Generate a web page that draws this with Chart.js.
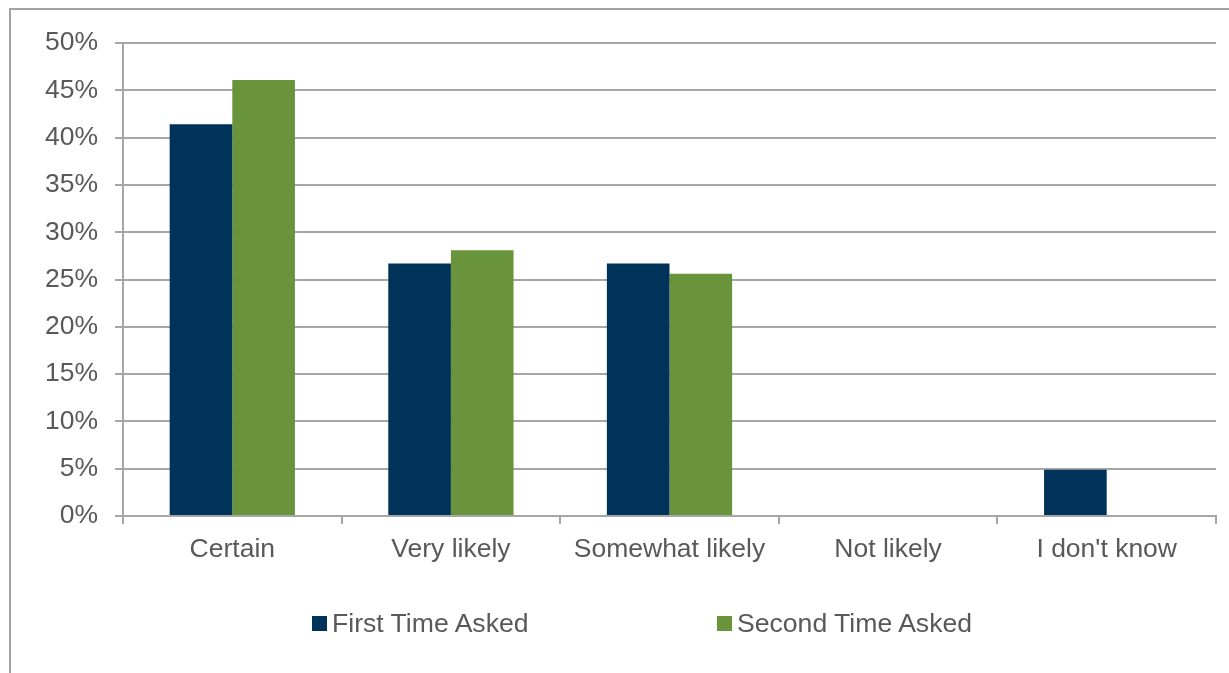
<!DOCTYPE html>
<html>
<head>
<meta charset="utf-8">
<script src="https://cdn.jsdelivr.net/npm/chart.js@4"></script>
<style>
  html, body { margin: 0; padding: 0; background: #fff; }
  body { width: 1229px; height: 673px; position: relative; overflow: hidden; font-family: "Liberation Sans", Arial, sans-serif; }
  #frame { position: absolute; left: 9px; top: 8px; width: 1300px; height: 700px; border-left: 2px solid #a3a3a3; border-top: 2px solid #a3a3a3; }
  #wrap { position: absolute; left: 0; top: 0; width: 1229px; height: 673px; }
  #legend { position: absolute; top: 607px; left: 0; width: 1229px; height: 32px; }
  .item { position: absolute; top: 0; display: flex; align-items: center; font-size: 26.6px; color: #595959; height: 32px; }
  .box { width: 15px; height: 15px; margin-right: 5px; }
</style>
</head>
<body>
<div id="frame"></div>
<div id="wrap"><canvas id="grafico"></canvas></div>
<div id="legend"></div>
<script>
const categorias = ["Certain", "Very likely", "Somewhat likely", "Not likely", "I don't know"];
const primeira = [41.4, 26.7, 26.7, 0, 4.9];
const segunda = [46.1, 28.1, 25.6, 0, 0];
const series = ["First Time Asked", "Second Time Asked"];
const cores = ["#003359", "#6a943b"];
const legendaX = [312, 717];

const cinza = "#a6a6a6";
const texto = "#595959";

const grafico = new Chart(document.getElementById("grafico"), {
  type: "bar",
  data: {
    labels: categorias,
    datasets: [
      { label: series[0], data: primeira, backgroundColor: cores[0] },
      { label: series[1], data: segunda, backgroundColor: cores[1] }
    ]
  },
  options: {
    responsive: true,
    maintainAspectRatio: false,
    animation: false,
    layout: { padding: { left: 0, right: 13, top: 43, bottom: 0 } },
    datasets: { bar: { categoryPercentage: 0.573, barPercentage: 1 } },
    plugins: { legend: { display: false }, tooltip: { enabled: false } },
    scales: {
      x: {
        offset: true,
        grid: { offset: true, drawOnChartArea: false, drawTicks: true, tickLength: 8, color: cinza, lineWidth: 2 },
        border: { color: cinza, width: 2 },
        ticks: { color: texto, font: { family: "Liberation Sans", size: 26.5 }, padding: 10 },
        afterFit: s => { s.height = 157; }
      },
      y: {
        min: 0,
        max: 50,
        ticks: {
          stepSize: 5,
          color: texto,
          padding: 17,
          font: { family: "Liberation Sans", size: 26.5 },
          callback: v => v + "%"
        },
        grid: { color: cinza, lineWidth: 2, tickLength: 8 },
        border: { color: cinza, width: 2 },
        afterFit: s => { s.width = 123; }
      }
    }
  }
});

// legenda em HTML, espaçada como no relatório
const legenda = document.getElementById("legend");
grafico.data.datasets.forEach((d, i) => {
  const el = document.createElement("div");
  el.className = "item";
  el.style.left = legendaX[i] + "px";
  el.innerHTML = `<span class="box" style="background:${d.backgroundColor}"></span>${d.label}`;
  legenda.appendChild(el);
});
</script>
</body>
</html>
